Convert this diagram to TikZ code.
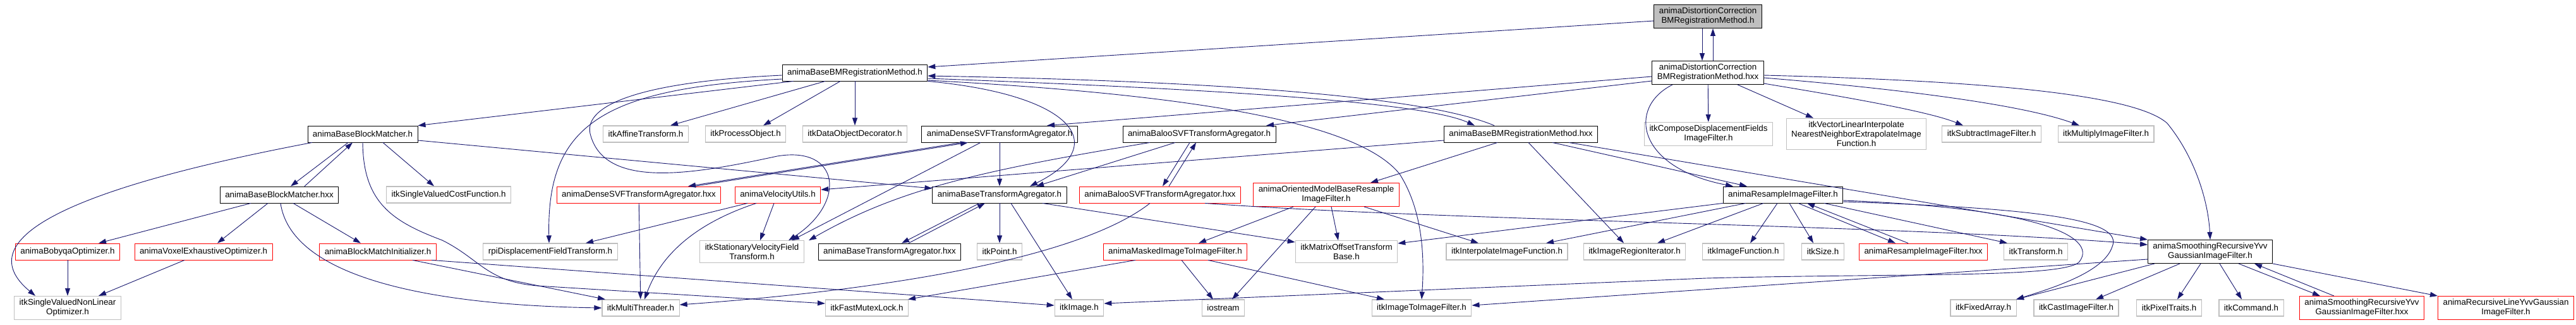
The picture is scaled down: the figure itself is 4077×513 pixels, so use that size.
\documentclass[tikz,border=0pt]{standalone}
\usepackage{fontspec}
\setmainfont{Liberation Sans}
\usepackage{xcolor}
\usetikzlibrary{arrows.meta}

\definecolor{edgeblue}{HTML}{191970}
\definecolor{boxgray}{HTML}{BFBFBF}

\begin{document}
\begin{tikzpicture}[
    x=0.25mm,
    y=-0.25mm,
    hdr/.style={
        draw,
        line width=0.6pt,
        minimum height=6.5mm,
        inner xsep=2mm,
        inner ysep=1.2mm,
        align=center,
        font=\fontsize{9.5}{10.7}\selectfont
    },
    sysfile/.style={hdr, draw=boxgray, line width=0.8pt},
    redfile/.style={hdr, draw=red},
    ownfile/.style={hdr, draw=black},
    rootfile/.style={hdr, draw=black, fill=boxgray},
    dep/.style={
        -{Triangle[length=3mm,width=2mm]},
        draw=edgeblue,
        line width=0.65pt
    }
]

\fill[white] (0,0) rectangle (4077,513);
\useasboundingbox (0,0) rectangle (4077,513);

\node[rootfile] (dch) at (2703,26) {animaDistortionCorrection\\BMRegistrationMethod.h};

\node[ownfile] (dchxx) at (2703,115) {animaDistortionCorrection\\BMRegistrationMethod.hxx};

\node[ownfile] (bbm) at (1353,115) {animaBaseBMRegistrationMethod.h};

\node[ownfile] (bbmh) at (574,212) {animaBaseBlockMatcher.h};
\node[sysfile] (affine) at (1022,212) {itkAffineTransform.h};
\node[sysfile] (procobj) at (1180,212) {itkProcessObject.h};
\node[sysfile] (dataobj) at (1353,212) {itkDataObjectDecorator.h};
\node[ownfile] (densesvf) at (1582,212) {animaDenseSVFTransformAgregator.h};
\node[ownfile] (baloo) at (1898,212) {animaBalooSVFTransformAgregator.h};
\node[ownfile] (bbmhxx) at (2407,212) {animaBaseBMRegistrationMethod.hxx};
\node[sysfile] (compose) at (2704,212) {itkComposeDisplacementFields\\ImageFilter.h};
\node[sysfile] (vecinterp) at (2938,212) {itkVectorLinearInterpolate\\NearestNeighborExtrapolateImage\\Function.h};
\node[sysfile] (subtract) at (3152,212) {itkSubtractImageFilter.h};
\node[sysfile] (multiply) at (3333,212) {itkMultiplyImageFilter.h};

\node[ownfile] (bbmhx) at (442,308) {animaBaseBlockMatcher.hxx};
\node[sysfile] (costfn) at (710,308) {itkSingleValuedCostFunction.h};
\node[redfile] (densehxx) at (1011,308) {animaDenseSVFTransformAgregator.hxx};
\node[redfile] (velutils) at (1231,308) {animaVelocityUtils.h};
\node[ownfile] (bta) at (1582,308) {animaBaseTransformAgregator.h};
\node[redfile] (baloohxx) at (1836,308) {animaBalooSVFTransformAgregator.hxx};
\node[redfile] (oriented) at (2099,308) {animaOrientedModelBaseResample\\ImageFilter.h};
\node[ownfile] (resample) at (2822,308) {animaResampleImageFilter.h};

\node[redfile] (bobyqa) at (107,398) {animaBobyqaOptimizer.h};
\node[redfile] (voxel) at (322,398) {animaVoxelExhaustiveOptimizer.h};
\node[redfile] (bminit) at (598,398) {animaBlockMatchInitializer.h};
\node[sysfile] (rpi) at (871,398) {rpiDisplacementFieldTransform.h};
\node[sysfile] (svf) at (1190,398) {itkStationaryVelocityField\\Transform.h};
\node[ownfile] (btahxx) at (1408,398) {animaBaseTransformAgregator.hxx};
\node[sysfile] (point) at (1582,398) {itkPoint.h};
\node[redfile] (masked) at (1860,398) {animaMaskedImageToImageFilter.h};
\node[sysfile] (matrix) at (2131,398) {itkMatrixOffsetTransform\\Base.h};
\node[sysfile] (interp) at (2385,398) {itkInterpolateImageFunction.h};
\node[sysfile] (regiter) at (2587,398) {itkImageRegionIterator.h};
\node[sysfile] (imgfn) at (2759,398) {itkImageFunction.h};
\node[sysfile] (size) at (2885,398) {itkSize.h};
\node[redfile] (resamplehxx) at (3044,398) {animaResampleImageFilter.hxx};
\node[sysfile] (transform) at (3222,398) {itkTransform.h};
\node[ownfile] (smoothing) at (3498,398) {animaSmoothingRecursiveYvv\\GaussianImageFilter.h};

\node[sysfile] (nonlinopt) at (107,487) {itkSingleValuedNonLinear\\Optimizer.h};
\node[sysfile] (multithr) at (1014,487) {itkMultiThreader.h};
\node[sysfile] (mutex) at (1372,487) {itkFastMutexLock.h};
\node[sysfile] (image) at (1708,487) {itkImage.h};
\node[sysfile] (iostream) at (1936,487) {iostream};
\node[sysfile] (img2img) at (2250,487) {itkImageToImageFilter.h};
\node[sysfile] (fixedarr) at (3139,487) {itkFixedArray.h};
\node[sysfile] (cast) at (3286,487) {itkCastImageFilter.h};
\node[sysfile] (pixtraits) at (3433,487) {itkPixelTraits.h};
\node[sysfile] (command) at (3563,487) {itkCommand.h};
\node[redfile] (smoothhxx) at (3738,487) {animaSmoothingRecursiveYvv\\GaussianImageFilter.hxx};
\node[redfile] (recline) at (3966,487) {animaRecursiveLineYvvGaussian\\ImageFilter.h};

\draw[dep] ([yshift=-1.75mm]dch.west) -- ([yshift=2.25mm]bbm.east);
\draw[dep] ([xshift=-2.25mm]dch.south) -- ([xshift=-2.25mm]dchxx.north);
\draw[dep] ([xshift=2mm]dchxx.north) -- ([xshift=2mm]dch.south);

\draw[dep] ([yshift=-1.5mm]dchxx.west) -- ([xshift=18.75mm]densesvf.north);
\draw[dep] ([yshift=-3.25mm]dchxx.west) -- ([xshift=26.5mm]baloo.north);
\draw[dep] ([xshift=-14mm]dchxx.south) .. controls (2575,170) and (2590,265) .. ([xshift=-19.75mm]resample.north);
\draw[dep] (dchxx) -- (compose);
\draw[dep] ([xshift=11.75mm]dchxx.south) -- ([xshift=-17mm]vecinterp.north);
\draw[dep] ([yshift=-4.25mm]dchxx.east) .. controls (2900,150) and (3050,175) .. ([xshift=-11.25mm]subtract.north);
\draw[dep] ([yshift=-2mm]dchxx.east) .. controls (3000,140) and (3200,165) .. ([xshift=-10.5mm]multiply.north);
\draw[dep] ([yshift=-1mm]dchxx.east) .. controls (3150,128) and (3380,150) .. (3430,195) .. controls (3475,250) and (3495,320) .. (smoothing.north);

\draw[dep] ([xshift=4.5mm]bbm.south west) -- (bbmh.north east);
\draw[dep] ([xshift=-11.75mm]bbm.south) -- ([xshift=9.75mm]affine.north);
\draw[dep] ([xshift=-5.75mm]bbm.south) -- ([xshift=7mm]procobj.north);
\draw[dep] (bbm) -- (dataobj);
\draw[dep] ([yshift=-2.5mm]bbm.west) .. controls (950,140) and (865,200) .. ([xshift=-0.5mm]rpi.north);
\draw[dep] ([yshift=-1mm]bbm.west) .. controls (1000,130) and (920,170) .. (935,215) .. controls (960,300) and (1100,275) .. (1230,247) .. controls (1330,230) and (1340,320) .. ([xshift=14.5mm]svf.north);
\draw[dep] ([yshift=-2.25mm]bbm.east) .. controls (1900,140) and (2250,160) .. ([xshift=-18.25mm]bbmhxx.north);
\draw[dep] ([xshift=-10.5mm]bbmhxx.north) .. controls (2250,150) and (1900,128) .. ([yshift=-1.25mm]bbm.east);
\draw[dep] ([yshift=-3mm]bbm.east) .. controls (1900,150) and (2150,195) .. (2215,275) .. controls (2250,330) and (2255,400) .. (img2img.north);
\draw[dep] (bbm.south east) .. controls (1700,150) and (1760,230) .. ([xshift=12mm]bta.north);

\draw[dep] ([yshift=-2.5mm]bbmhxx.west) -- ([yshift=2mm]velutils.east);
\draw[dep] ([xshift=-9.25mm]bbmhxx.south) -- ([xshift=17.5mm]oriented.north);
\draw[dep] ([xshift=3mm]bbmhxx.south) -- ([xshift=-4.25mm]regiter.north);
\draw[dep] ([xshift=12.5mm]bbmhxx.south) -- ([xshift=-14.25mm]resample.north);
\draw[dep] ([xshift=19mm]bbmhxx.south) -- (smoothing.north west);

\draw[dep] ([xshift=-5.75mm]bbmh.south) -- ([xshift=4.5mm]bbmhx.north);
\draw[dep] ([xshift=10mm]bbmhx.north) -- ([xshift=-4mm]bbmh.south);
\draw[dep] ([xshift=8mm]bbmh.south) -- ([xshift=-5.75mm]costfn.north);
\draw[dep] ([xshift=-20mm]bbmh.south) .. controls (100,300) and (-50,380) .. ([xshift=-12.75mm]nonlinopt.north);
\draw[dep] (bbmh.south) .. controls (575,320) and (620,350) .. (700,380) .. controls (760,410) and (770,445) .. (850,452) -- ([yshift=1.75mm]mutex.west);
\draw[dep] ([yshift=-2.5mm]bbmh.east) -- ([yshift=2.5mm]bta.west);

\draw[dep] ([xshift=-11.25mm]bbmhx.south) -- ([xshift=12.25mm]bobyqa.north);
\draw[dep] ([xshift=-4.5mm]bbmhx.south) -- ([xshift=5.5mm]voxel.north);
\draw[dep] ([xshift=5.5mm]bbmhx.south) -- ([xshift=-6.75mm]bminit.north);
\draw[dep] ([xshift=0.5mm]bbmhx.south) .. controls (460,430) and (650,482) .. (multithr.west);

\draw[dep] (bobyqa) -- (nonlinopt);
\draw[dep] ([xshift=-7.5mm]voxel.south) -- ([xshift=12.25mm]nonlinopt.north);
\draw[dep] ([xshift=13.75mm]bminit.south) -- ([xshift=-14mm]multithr.north);
\draw[dep] ([xshift=21.25mm]bminit.south) -- ([yshift=1mm]image.west);

\draw[dep] ([xshift=-12mm]velutils.south) -- ([xshift=14mm]rpi.north);
\draw[dep] ([xshift=-1.5mm]velutils.south) -- ([xshift=3.25mm]svf.north);
\draw[dep] ([xshift=-8.5mm]velutils.south) .. controls (1080,360) and (1040,420) .. ([xshift=1.5mm]multithr.north);
\draw[dep] (densehxx) -- (multithr);

\draw[dep] ([xshift=-15mm]densesvf.south) -- ([xshift=19.5mm]densehxx.north);
\draw[dep] ([xshift=22mm]densehxx.north) -- ([xshift=-12.5mm]densesvf.south);
\draw[dep] ([xshift=-7.5mm]densesvf.south) -- ([xshift=15.75mm]svf.north);
\draw[dep] (densesvf) -- (bta);

\draw[dep] ([xshift=-19.5mm]baloo.south) .. controls (1550,270) and (1420,300) .. ([xshift=22.5mm]svf.north);
\draw[dep] ([xshift=-9.5mm]baloo.south) -- ([xshift=14.5mm]bta.north);
\draw[dep] ([xshift=-3.75mm]baloo.south) -- ([xshift=1mm]baloohxx.north);
\draw[dep] ([xshift=3.5mm]baloohxx.north) -- ([xshift=-1.25mm]baloo.south);
\draw[dep] ([xshift=-4mm]baloohxx.south) .. controls (1720,400) and (1450,455) .. ([yshift=1.25mm]multithr.east);
\draw[dep] ([xshift=17.75mm]baloohxx.south) .. controls (2300,350) and (3000,355) .. ([yshift=2.75mm]smoothing.west);

\draw[dep] ([xshift=-8mm]bta.south) -- ([xshift=4.75mm]btahxx.north);
\draw[dep] ([xshift=7.5mm]btahxx.north) -- ([xshift=-5.75mm]bta.south);
\draw[dep] (bta) -- (point);
\draw[dep] ([xshift=4.5mm]bta.south) -- ([xshift=-2.75mm]image.north);
\draw[dep] ([xshift=17mm]bta.south) -- ([yshift=3.75mm]matrix.west);

\draw[dep] ([xshift=-13mm]oriented.south) -- ([xshift=9.25mm]masked.north);
\draw[dep] ([xshift=-4.25mm]oriented.south) -- ([xshift=3.5mm]iostream.north);
\draw[dep] ([xshift=2mm]oriented.south) -- ([xshift=-3.25mm]matrix.north);
\draw[dep] ([xshift=15mm]oriented.south) -- ([xshift=-11.25mm]interp.north);

\draw[dep] ([xshift=-15.75mm]masked.south) -- ([xshift=16.25mm]mutex.north);
\draw[dep] ([xshift=2.5mm]masked.south) -- ([xshift=-4mm]iostream.north);
\draw[dep] ([xshift=13mm]masked.south) -- ([xshift=-14.75mm]img2img.north);

\draw[dep] ([xshift=6mm]resample.south) -- ([xshift=-11mm]resamplehxx.north);
\draw[dep] ([xshift=-6mm]resamplehxx.north) -- ([xshift=9.5mm]resample.south);
\draw[dep] ([xshift=16.25mm]resample.south) -- ([xshift=-11.25mm]transform.north);
\draw[dep] ([xshift=2.5mm]resample.south) -- ([xshift=-3.75mm]size.north);
\draw[dep] ([xshift=-2.25mm]resample.south) -- ([xshift=2.75mm]imgfn.north);
\draw[dep] ([xshift=-7.75mm]resample.south) -- ([xshift=9mm]regiter.north);
\draw[dep] ([xshift=-14.75mm]resample.south) -- ([xshift=15.5mm]interp.north);
\draw[dep] (resample.south west) -- ([yshift=3.25mm]matrix.east);
\draw[dep] ([yshift=-2.25mm]resample.east) .. controls (3250,330) and (3320,380) .. (3290,415) .. controls (3260,440) and (3000,432) .. (2700,440) -- ([yshift=1.75mm]image.east);
\draw[dep] ([yshift=-2.75mm]resample.east) .. controls (3250,330) and (3360,350) .. (3343,390) .. controls (3330,430) and (3250,455) .. ([xshift=13mm]fixedarr.north);

\draw[dep] ([xshift=-22mm]smoothing.south) -- ([xshift=13mm]fixedarr.north);
\draw[dep] ([yshift=-3mm]smoothing.west) -- ([yshift=1mm]img2img.east);
\draw[dep] ([xshift=-12mm]smoothing.south) -- ([xshift=7.75mm]cast.north);
\draw[dep] ([xshift=-3.75mm]smoothing.south) -- ([xshift=3.25mm]pixtraits.north);
\draw[dep] ([xshift=3.75mm]smoothing.south) -- ([xshift=-3.75mm]command.north);
\draw[dep] ([xshift=11.25mm]smoothing.south) -- ([xshift=-16.5mm]smoothhxx.north);
\draw[dep] ([xshift=-11mm]smoothhxx.north) -- ([xshift=17.5mm]smoothing.south);
\draw[dep] (smoothing.south east) -- ([xshift=-27mm]recline.north);

\end{tikzpicture}
\end{document}
